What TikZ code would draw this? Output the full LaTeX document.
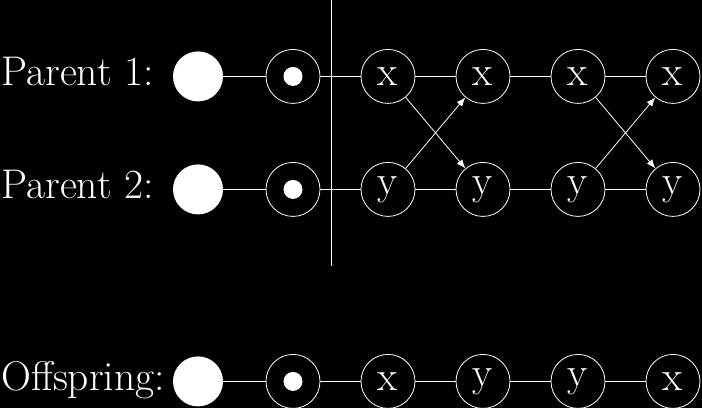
\documentclass[tikz,border=0pt]{standalone}
\usepackage{fontspec}
\usepackage{tikz}
\usetikzlibrary{positioning, arrows.meta}
\tikzstyle{gene} = [circle, draw=white, minimum size=27pt, inner sep=0pt, text=white]
\tikzstyle{origin} = [circle, fill=white, minimum size=25pt, inner sep=0pt]
\tikzstyle{marker} = [gene, path picture={\fill[white] (path picture bounding box.center) circle (4.75pt);}]
\tikzstyle{rowname} = [anchor=base west, inner sep=0pt, text=white]
\tikzstyle{link} = [draw=white]
\tikzstyle{swap} = [white, -{Latex[length=4.5pt, width=3.5pt]}]

\begin{document}
\begin{tikzpicture}[x=0.5pt, y=-0.5pt, node distance=47.5pt, on grid, every node/.style={font=\fontsize{20.74}{25}\selectfont}]
% Background
\fill[black] (0,0) rectangle (702,408);

% Parent 1
\node[origin] (p1start) at (198,76) {};
\node[marker, right=of p1start] (p1mark) {};
\node[gene, right=of p1mark] (p1g1) {x};
\node[gene, right=of p1g1] (p1g2) {x};
\node[gene, right=of p1g2] (p1g3) {x};
\node[gene, right=of p1g3] (p1g4) {x};
\node[rowname] (p1name) at (1,85) {Parent 1:};

% Parent 2
\node[origin, below=56.5pt of p1start] (p2start) {};
\node[marker, right=of p2start] (p2mark) {};
\node[gene, right=of p2mark] (p2g1) {y};
\node[gene, right=of p2g1] (p2g2) {y};
\node[gene, right=of p2g2] (p2g3) {y};
\node[gene, right=of p2g3] (p2g4) {y};
\node[rowname] (p2name) at (1,198) {Parent 2:};

% Offspring
\node[origin, below=96pt of p2start] (ofstart) {};
\node[marker, right=of ofstart] (ofmark) {};
\node[gene, right=of ofmark] (ofg1) {x};
\node[gene, right=of ofg1] (ofg2) {y};
\node[gene, right=of ofg2] (ofg3) {y};
\node[gene, right=of ofg3] (ofg4) {x};
\node[rowname] (ofname) at (1,390) {Offspring:};

% Chains
\draw[link] (p1start) -- (p1mark);
\draw[link] (p1mark) -- (p1g1);
\draw[link] (p1g1) -- (p1g2);
\draw[link] (p1g2) -- (p1g3);
\draw[link] (p1g3) -- (p1g4);
\draw[link] (p2start) -- (p2mark);
\draw[link] (p2mark) -- (p2g1);
\draw[link] (p2g1) -- (p2g2);
\draw[link] (p2g2) -- (p2g3);
\draw[link] (p2g3) -- (p2g4);
\draw[link] (ofstart) -- (ofmark);
\draw[link] (ofmark) -- (ofg1);
\draw[link] (ofg1) -- (ofg2);
\draw[link] (ofg2) -- (ofg3);
\draw[link] (ofg3) -- (ofg4);

% Crossover
\draw[swap] (p1g1) -- (p2g2);
\draw[swap] (p2g1) -- (p1g2);
\draw[swap] (p1g3) -- (p2g4);
\draw[swap] (p2g3) -- (p1g4);

% Cut point
\coordinate (cuttop) at (331,0);
\coordinate (cutbot) at (331,266);
\draw[link] (cuttop) -- (cutbot);
\end{tikzpicture}
\end{document}
